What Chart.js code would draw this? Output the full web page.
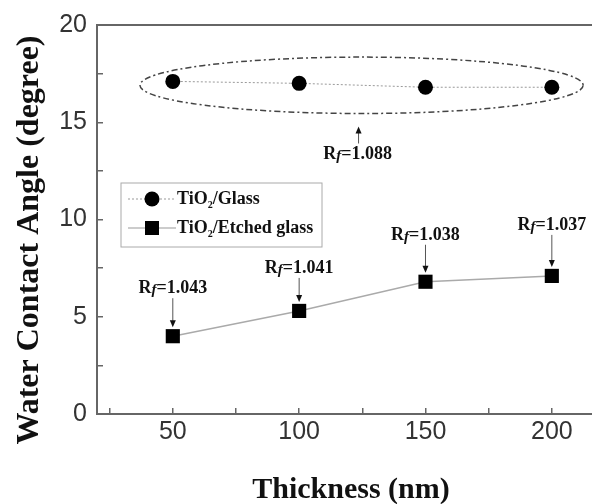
<!DOCTYPE html>
<html>
<head>
<meta charset="utf-8">
<script src="https://cdn.jsdelivr.net/npm/chart.js@4.4.1/dist/chart.umd.min.js"></script>
<style>
  html, body { margin: 0; padding: 0; background: #fff; overflow: hidden; }
  canvas { display: block; }
</style>
</head>
<body>
<canvas id="angleChart" width="616" height="504"></canvas>
<script>
// film thickness (nm)
const thickness = [50, 100, 150, 200];
// water contact angle (degree)
const glassAngle = [17.1, 17.0, 16.8, 16.8];
const etchedAngle = [4.0, 5.3, 6.8, 7.1];
// roughness factors
const glassRf = 1.088;
const etchedRf = [1.043, 1.041, 1.038, 1.037];
// axis ticks (minor ticks carry no label)
const xTicks = [25, 50, 75, 100, 125, 150, 175, 200];
const xLabels = [50, 100, 150, 200];
const yTicks = [0, 2.5, 5, 7.5, 10, 12.5, 15, 17.5, 20];
const yLabels = [0, 5, 10, 15, 20];

const serif = '"Liberation Serif", "Times New Roman", serif';
const sans = '"Liberation Sans", Arial, sans-serif';
// how far each Rf label baseline sits above its square
const labelLift = [43, 38, 42, 46];

// draws "Rf=1.043" centred on x, baseline at y
function drawRf(ctx, x, y, value) {
  const parts = [
    ['R', 'bold 18px ' + serif, 0],
    ['f', 'italic bold 15px ' + serif, 1],
    ['=' + value.toFixed(3), 'bold 18px ' + serif, 0]
  ];
  let w = 0;
  parts.forEach(p => { ctx.font = p[1]; w += ctx.measureText(p[0]).width; });
  let cx = x - w / 2;
  ctx.textAlign = 'left';
  ctx.textBaseline = 'alphabetic';
  parts.forEach(p => {
    ctx.font = p[1];
    ctx.fillText(p[0], cx, y + p[2]);
    cx += ctx.measureText(p[0]).width;
  });
}

function drawArrow(ctx, x, y0, y1) {
  const dir = Math.sign(y1 - y0);
  ctx.beginPath();
  ctx.moveTo(x, y0);
  ctx.lineTo(x, y1 - dir * 6);
  ctx.strokeStyle = '#555';
  ctx.lineWidth = 1;
  ctx.stroke();
  ctx.beginPath();
  ctx.moveTo(x, y1);
  ctx.lineTo(x - 3, y1 - dir * 7);
  ctx.lineTo(x + 3, y1 - dir * 7);
  ctx.closePath();
  ctx.fillStyle = '#111';
  ctx.fill();
}

// "TiO2/..." with subscript 2
function drawFormula(ctx, x, y, rest) {
  ctx.textAlign = 'left';
  ctx.textBaseline = 'middle';
  ctx.font = 'bold 18px ' + serif;
  ctx.fillText('TiO', x, y);
  x += ctx.measureText('TiO').width;
  ctx.font = 'bold 10px ' + serif;
  ctx.fillText('2', x, y + 6);
  x += ctx.measureText('2').width;
  ctx.font = 'bold 18px ' + serif;
  ctx.fillText('/' + rest, x, y);
}

const decorations = {
  id: 'decorations',
  afterDraw(chart) {
    const { ctx, chartArea: a, scales: { x, y } } = chart;
    ctx.save();

    // top frame line
    ctx.strokeStyle = '#666';
    ctx.lineWidth = 2;
    ctx.beginPath();
    ctx.moveTo(a.left, a.top);
    ctx.lineTo(a.right, a.top);
    ctx.stroke();

    // axis titles
    ctx.fillStyle = '#111';
    ctx.font = 'bold 30px ' + serif;
    ctx.textAlign = 'center';
    ctx.textBaseline = 'alphabetic';
    ctx.fillText('Thickness (nm)', 351, 498);
    ctx.save();
    ctx.translate(30, 240);
    ctx.rotate(-Math.PI / 2);
    ctx.font = 'bold 32px ' + serif;
    ctx.textBaseline = 'middle';
    ctx.fillText('Water Contact Angle (degree)', 0, 0);
    ctx.restore();

    // dash-dot ellipse round the TiO2/Glass points
    const cx = x.getPixelForValue(124.7);
    const cy = y.getPixelForValue(16.9);
    const rx = x.getPixelForValue(212.4) - cx;
    const ry = y.getPixelForValue(15.45) - cy;
    ctx.beginPath();
    ctx.ellipse(cx, cy, rx, ry, 0, 0, Math.PI * 2);
    ctx.setLineDash([6, 3, 2, 3]);
    ctx.strokeStyle = '#444';
    ctx.lineWidth = 1.5;
    ctx.stroke();
    ctx.setLineDash([]);

    ctx.fillStyle = '#111';
    drawArrow(ctx, cx - 3, cy + ry + 30, cy + ry + 13);
    drawRf(ctx, cx - 4, cy + ry + 46, glassRf);

    // roughness labels over the etched-glass points
    thickness.forEach((t, i) => {
      const px = x.getPixelForValue(t);
      const py = y.getPixelForValue(etchedAngle[i]);
      ctx.fillStyle = '#111';
      drawRf(ctx, px, py - labelLift[i], etchedRf[i]);
      drawArrow(ctx, px, py - labelLift[i] + 5, py - 9);
    });

    // legend
    const lx = a.left + 24, ly = a.top + 158;
    ctx.strokeStyle = '#aaa';
    ctx.lineWidth = 1;
    ctx.strokeRect(lx, ly, 201, 64);
    const rows = [
      { y: ly + 16, dash: [2, 2], color: '#999', style: 'circle', name: 'Glass' },
      { y: ly + 45, dash: [], color: '#999', style: 'rect', name: 'Etched glass' }
    ];
    rows.forEach(r => {
      ctx.beginPath();
      ctx.setLineDash(r.dash);
      ctx.moveTo(lx + 7, r.y);
      ctx.lineTo(lx + 55, r.y);
      ctx.strokeStyle = r.color;
      ctx.stroke();
      ctx.setLineDash([]);
      ctx.fillStyle = '#000';
      if (r.style === 'circle') {
        ctx.beginPath();
        ctx.arc(lx + 31, r.y, 7.5, 0, Math.PI * 2);
        ctx.fill();
      } else {
        ctx.fillRect(lx + 24, r.y - 7, 14, 14);
      }
      ctx.fillStyle = '#111';
      drawFormula(ctx, lx + 56, r.y, r.name);
    });

    ctx.restore();
  }
};

new Chart(document.getElementById('angleChart'), {
  type: 'line',
  data: {
    datasets: [
      {
        label: 'TiO2/Glass',
        data: thickness.map((t, i) => ({ x: t, y: glassAngle[i] })),
        borderColor: '#999',
        borderWidth: 1,
        borderDash: [2, 2],
        pointStyle: 'circle',
        pointRadius: 7.5,
        pointBackgroundColor: '#000',
        pointBorderWidth: 0
      },
      {
        label: 'TiO2/Etched glass',
        data: thickness.map((t, i) => ({ x: t, y: etchedAngle[i] })),
        borderColor: '#aaa',
        borderWidth: 1.5,
        pointStyle: 'rect',
        pointRadius: 10,
        pointBackgroundColor: '#000',
        pointBorderWidth: 0
      }
    ]
  },
  options: {
    responsive: false,
    animation: false,
    layout: { autoPadding: false, padding: { top: 25, right: 1, left: 0, bottom: 0 } },
    plugins: { legend: { display: false }, tooltip: { enabled: false } },
    scales: {
      x: {
        type: 'linear',
        min: 20,
        max: 225,
        afterBuildTicks: s => { s.ticks = xTicks.map(v => ({ value: v })); },
        afterFit: s => { s.height = 90; },
        border: { display: true, color: '#666', width: 2 },
        grid: { drawOnChartArea: false, drawTicks: true, tickLength: -6, color: '#666', lineWidth: 1.5 },
        ticks: {
          padding: 9,
          maxRotation: 0,
          autoSkip: false,
          color: '#333',
          font: { family: sans, size: 25 },
          callback: v => xLabels.includes(v) ? v : ''
        }
      },
      y: {
        type: 'linear',
        min: 0,
        max: 20,
        afterBuildTicks: s => { s.ticks = yTicks.map(v => ({ value: v })); },
        afterFit: s => { s.width = 97; },
        border: { display: true, color: '#666', width: 2 },
        grid: { drawOnChartArea: false, drawTicks: true, tickLength: -6, color: '#666', lineWidth: 1.5 },
        ticks: {
          padding: 16,
          autoSkip: false,
          color: '#333',
          font: { family: sans, size: 25, lineHeight: 0.72 },
          callback: v => yLabels.includes(v) ? v : ''
        }
      }
    }
  },
  plugins: [decorations]
});
</script>
</body>
</html>
